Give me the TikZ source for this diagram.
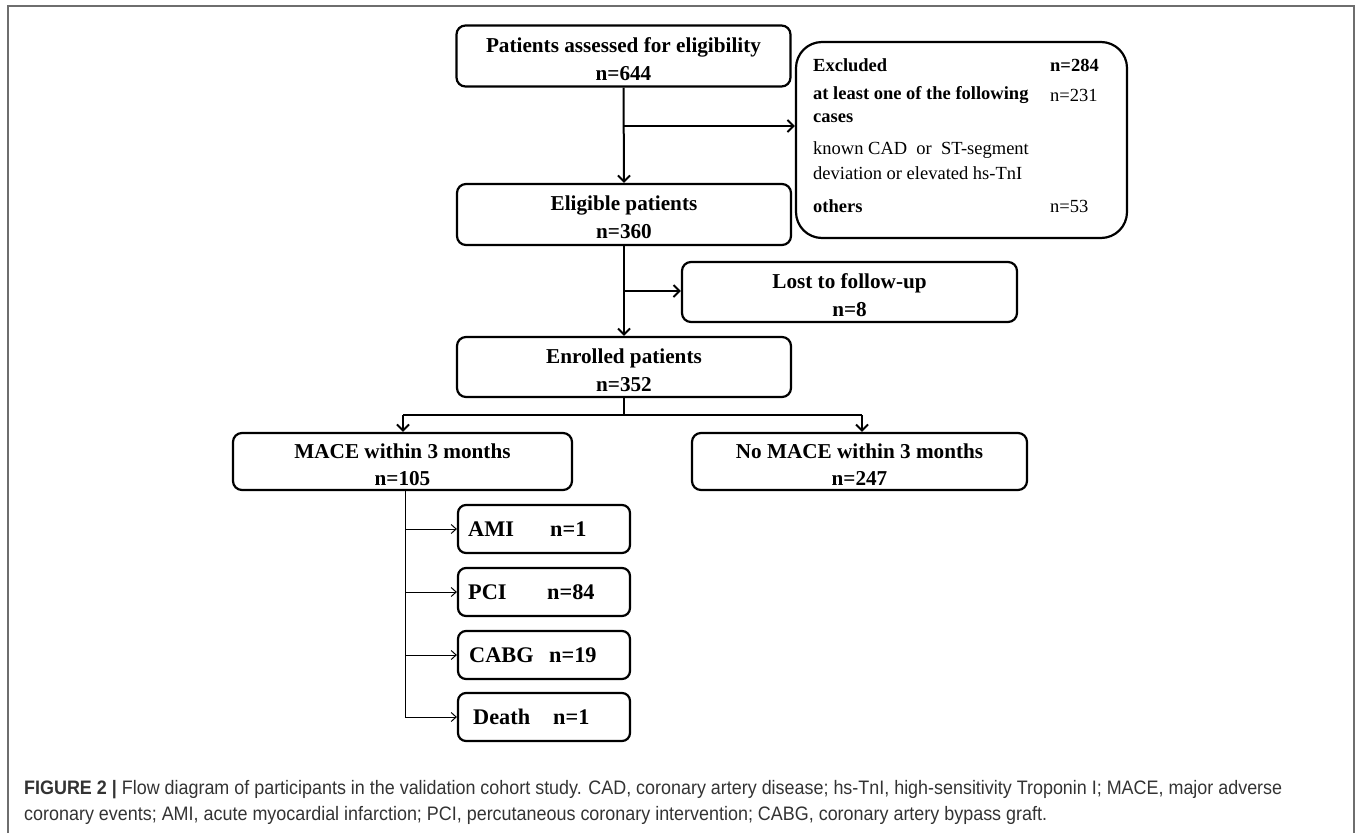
\documentclass[tikz,border=0pt]{standalone}
\usepackage{fontspec}
\setmainfont{Liberation Serif}
\setsansfont{Liberation Sans}
\usepackage{graphicx}
\usetikzlibrary{arrows.meta}
\definecolor{framegray}{HTML}{6E6E6E}
\definecolor{captext}{HTML}{333333}
\newcommand{\toppad}{\rule{0pt}{21pt}}
\begin{document}
\begin{tikzpicture}[x=1pt,y=-1pt,
  mbox/.style={draw=black, line width=2.2pt, rounded corners=9pt, align=center,
    font=\bfseries\fontsize{21.2}{24}\selectfont, inner sep=0pt},
  sbox/.style={draw=black, line width=2.2pt, rounded corners=8pt, inner sep=0pt,
    minimum width=172pt, minimum height=48pt},
  stxt/.style={anchor=west, inner sep=0pt, font=\bfseries\fontsize{22.3}{25}\selectfont},
  etxt/.style={anchor=west, inner sep=0pt, font=\fontsize{18.5}{21}\selectfont},
  ebtxt/.style={etxt, font=\bfseries\fontsize{18.5}{21}\selectfont},
  arr/.style={line width=2pt, -{Straight Barb[length=6pt,width=12pt,line width=2pt]}},
  thinarr/.style={line width=1pt, -{Straight Barb[length=5pt,width=9pt,line width=1pt]}},
  frame/.style={draw=framegray, line width=2pt},
  capt/.style={anchor=base west, inner sep=0pt, text=captext, font=\sffamily\fontsize{19.5}{24}\selectfont}
]
\useasboundingbox (0,0) rectangle (1357,833);
\draw[frame] (8,833) -- (8,6) -- (1354,6) -- (1354,833);

% main boxes
\node[mbox, minimum width=334pt, minimum height=61pt] (b1) at (623.5,56) {\toppad Patients assessed for eligibility\\[4pt]n=644};
\node[mbox, minimum width=334pt, minimum height=61pt] (b2) at (624,214.5) {\toppad Eligible patients\\[4pt]n=360};
\node[draw=black, line width=2.2pt, rounded corners=26pt, minimum width=331pt, minimum height=196pt, inner sep=0pt] (ex) at (961.5,140) {};
\node[mbox, minimum width=335pt, minimum height=60pt] (lost) at (849.5,292) {\toppad Lost to follow-up\\[4pt]n=8};
\node[mbox, minimum width=334pt, minimum height=60pt] (enr) at (624,367) {\toppad Enrolled patients\\[4pt]n=352};
\node[mbox, minimum width=339pt, minimum height=57pt] (mace) at (402.5,461.5) {\toppad MACE within 3 months\\[3pt]n=105};
\node[mbox, minimum width=335pt, minimum height=57pt] (nomace) at (859.5,461.5) {\toppad No MACE within 3 months\\[3pt]n=247};

% excluded texts
\node[ebtxt] (e1) at (813,65) {Excluded};
\node[ebtxt] (e1n) at (1050,65) {n=284};
\node[ebtxt] (e2) at (813,95) {at least one of the following};
\node[etxt] (e2n) at (1050,95) {n=231};
\node[ebtxt] (e3) at (813,118) {cases};
\node[etxt] (e4) at (813,150) {known CAD\enspace or\enspace ST-segment};
\node[etxt] (e5) at (813,173) {deviation or elevated hs-TnI};
\node[ebtxt] (e6) at (813,206) {others};
\node[etxt] (e6n) at (1050,206) {n=53};

% sub boxes
\node[sbox] (ami) at (544,529) {};
\node[sbox] (pci) at (544,592) {};
\node[sbox] (cabg) at (544,655) {};
\node[sbox] (death) at (544,717) {};
\node[stxt] (amit) at (468,529) {AMI};
\node[stxt] (amin) at (550,529) {n=1};
\node[stxt] (pcit) at (468,592) {PCI};
\node[stxt] (pcin) at (547,592) {n=84};
\node[stxt] (cabgt) at (469,655) {CABG};
\node[stxt] (cabgn) at (549,655) {n=19};
\node[stxt] (deatht) at (473,717) {Death};
\node[stxt] (deathn) at (553,717) {n=1};

% connectors
\coordinate (j1) at (624,126);
\coordinate (j2) at (624,291);
\coordinate (j3) at (624,415);
\coordinate (jl) at (403,415);
\coordinate (jr) at (862,415);
\coordinate (v0) at (405,490);
\coordinate (v1) at (405,717);
\draw[arr] (b1.south) -- (b2.north);
\draw[arr] (j1) -- (j1 -| ex.west);
\draw[arr] (b2.south) -- (enr.north);
\draw[arr] (j2) -- (j2 -| lost.west);
\draw[line width=2pt] (enr.south) -- (j3);
\draw[line width=2pt] (jl) -- (jr);
\draw[arr] (jl) -- (jl |- mace.north);
\draw[arr] (jr) -- (jr |- nomace.north);
\draw[line width=1pt] (v0) -- (v1);
\draw[thinarr] (v0 |- ami.west) -- (ami.west);
\draw[thinarr] (v0 |- pci.west) -- (pci.west);
\draw[thinarr] (v0 |- cabg.west) -- (cabg.west);
\draw[thinarr] (v1) -- (death.west);

% caption
\node[capt] (cap1) at (24,794) {\resizebox{1258pt}{\height}{\textbf{FIGURE 2 |} Flow diagram of participants in the validation cohort study. CAD, coronary artery disease; hs-TnI, high-sensitivity Troponin I; MACE, major adverse}};
\node[capt] (cap2) at (24,820) {\resizebox{1023pt}{\height}{coronary events; AMI, acute myocardial infarction; PCI, percutaneous coronary intervention; CABG, coronary artery bypass graft.}};
\end{tikzpicture}
\end{document}
